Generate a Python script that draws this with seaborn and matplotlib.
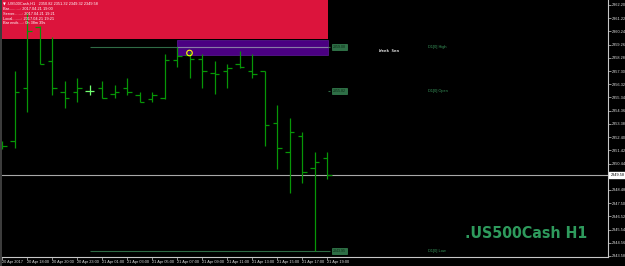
import numpy as np
import pandas as pd
import matplotlib
matplotlib.use("Agg")
import matplotlib.pyplot as plt
import matplotlib.transforms as mtransforms
from matplotlib.patches import Rectangle
import seaborn as sns

# ---------------- data ----------------
symbol = ".US500Cash,H1"
time_labels = ["20 Apr 2017", "20 Apr 18:00", "20 Apr 20:00", "20 Apr 23:00",
               "21 Apr 01:00", "21 Apr 03:00", "21 Apr 05:00", "21 Apr 07:00",
               "21 Apr 09:00", "21 Apr 11:00", "21 Apr 13:00", "21 Apr 15:00",
               "21 Apr 17:00", "21 Apr 19:00"]
label_bars = [0, 2, 4, 6, 8, 10, 12, 14, 16, 18, 20, 22, 24, 26]

opens  = [2351.81, 2352.11, 2356.04, 2360.57, 2358.05, 2355.75, 2355.75, 2355.82,
          2356.04, 2355.60, 2356.04, 2355.52, 2355.23, 2355.30, 2358.12, 2358.49,
          2358.19, 2357.16, 2357.30, 2357.82, 2357.30, 2357.30, 2353.45, 2351.30,
          2352.48, 2350.11, 2350.82]
highs  = [2352.11, 2357.30, 2361.61, 2360.64, 2359.83, 2356.56, 2356.78, 2356.27,
          2356.56, 2356.27, 2356.78, 2355.75, 2355.75, 2358.57, 2359.08, 2358.71,
          2358.57, 2358.05, 2357.82, 2358.79, 2358.57, 2357.32, 2354.78, 2353.82,
          2352.78, 2351.30, 2351.32]
lows   = [2351.52, 2351.59, 2354.26, 2357.82, 2355.52, 2354.56, 2355.00, 2355.52,
          2355.30, 2355.30, 2355.52, 2355.00, 2355.00, 2355.25, 2357.60, 2356.78,
          2356.04, 2355.60, 2356.04, 2357.53, 2356.78, 2351.74, 2350.03, 2348.25,
          2349.00, 2343.95, 2349.32]
closes = [2351.74, 2355.75, 2360.27, 2357.82, 2356.04, 2355.30, 2356.04, 2355.82,
          2355.30, 2355.75, 2355.75, 2355.00, 2355.52, 2358.12, 2358.42, 2358.19,
          2357.30, 2357.08, 2357.53, 2357.60, 2357.08, 2353.30, 2351.59, 2352.78,
          2349.81, 2350.55, 2349.58]

price_ticks = [2362.20, 2361.22, 2360.24, 2359.26, 2358.28, 2357.30, 2356.32,
               2355.34, 2354.36, 2353.38, 2352.40, 2351.42, 2350.44, 2349.46,
               2348.48, 2347.50, 2346.52, 2345.54, 2344.56, 2343.58]

day_start_bar = 7          # first H1 bar of 21 Apr
zone_top, zone_bottom = 2359.60, 2358.49
marker_bar, marker_price = 15, 2358.64
info_lines = ["Bar..........: 2017.04.21 19:00",
              "Server.......: 2017.04.21 19:21",
              "Local........: 2017.04.21 19:21",
              "Bar ends....: 0h 38m 39s"]
watermark = ".US500Cash H1"
week_text = "Week Sen"

df = pd.DataFrame({"bar": np.arange(len(opens)), "open": opens, "high": highs,
                   "low": lows, "close": closes})
d1_open = df["open"][day_start_bar]
d1_high = df["high"][day_start_bar:].max()
d1_low = df["low"][day_start_bar:].min()
bid = closes[-1]

# ---------------- style ----------------
sns.set_style("dark", rc={"axes.facecolor": "black", "figure.facecolor": "black"})
plt.rcParams["font.family"] = ["Liberation Sans", "DejaVu Sans"]

fig = plt.figure(figsize=(6.25, 2.66), dpi=100, facecolor="black")
ax = fig.add_axes([0, 9 / 266, 608 / 625, 257 / 266])
ax.set_facecolor("black")

px = 12.5  # pixels per bar
ax.set_xlim(-2 / px, (608 - 2) / px)
def price_at(ypix):
    return 2362.20 - (ypix - 5) / 13.48
ax.set_ylim(price_at(257), price_at(0))

# info panel (crimson)
ax.add_patch(Rectangle((0, 1 - 39 / 257), 328 / 608, 39 / 257, transform=ax.transAxes,
                       facecolor="#dc143c", edgecolor="none", zorder=1))
ax.text(3 / 608, 1 - 4 / 257, "▼", transform=ax.transAxes, color="white",
        fontsize=2.6, va="center", ha="left", zorder=6, family=["DejaVu Sans"])
ax.text(7 / 608, 1 - 4 / 257,
        f"{symbol}   {opens[-1]:.2f} {highs[-1]:.2f} {lows[-1]:.2f} {closes[-1]:.2f}",
        transform=ax.transAxes, color="white", fontsize=2.8, va="center", ha="left", zorder=6)
for k, line in enumerate(info_lines):
    ax.text(3 / 608, 1 - (9.3 + 4.7 * k) / 257, line, transform=ax.transAxes,
            color="white", fontsize=2.8, va="center", ha="left", zorder=6)

# zone (indigo)
x_end = (328 - 2) / px
ax.add_patch(Rectangle((14.0, zone_bottom), x_end - 14.0, zone_top - zone_bottom,
                       facecolor="#4b0082", edgecolor="#5e1a9a", lw=0.5, zorder=2))

# D1 levels
line_end = (330 - 2) / px
lvl_col = "#2f6b45"
ax.hlines([d1_high, d1_low], day_start_bar, line_end, color=lvl_col, lw=0.8, zorder=3)
ax.hlines(d1_high, 14.0, x_end, color="#8a7aa8", lw=0.8, zorder=3)
ax.hlines(d1_open, x_end, line_end, color=lvl_col, lw=0.8, zorder=3)
for val, name in [(d1_high, "High"), (d1_open, "Open"), (d1_low, "Low")]:
    ax.text((333 - 2) / px, val, f"{val:.2f}", color="#0a2a14", fontsize=2.6,
            va="center", ha="left", zorder=6,
            bbox=dict(boxstyle="square,pad=0.25", facecolor="#2e6e46",
                      edgecolor="#3f9a60", lw=0.4))
    ax.text((428 - 2) / px, val, f"D1[0] {name}", color="#3a9a5e", fontsize=2.8,
            va="center", ha="left", zorder=6)
ax.text((379 - 2) / px, price_at(50.5), week_text, color="#e8e8e8", fontsize=3.0,
        fontweight="bold", va="center", ha="left", zorder=6, family=["DejaVu Sans Mono"])

# bid line
ax.axhline(bid, color="#a8a8a8", lw=0.8, zorder=2)

# OHLC bars
bar_col = "#079607"
tick = 0.36
is_doji = (df["open"] - df["close"]).abs() < 0.02
col = np.where(is_doji, "#70ff70", bar_col)
ax.vlines(df["bar"], df["low"], df["high"], colors=col, lw=0.9, zorder=4)
ax.hlines(df["open"], df["bar"] - tick, df["bar"], colors=col, lw=0.9, zorder=4)
ax.hlines(df["close"], df["bar"], df["bar"] + tick, colors=col, lw=0.9, zorder=4)

# marker
sns.scatterplot(x=[marker_bar], y=[marker_price], ax=ax, s=16, marker="o",
                facecolor="none", edgecolor="#ffff00", linewidth=0.8, zorder=5)

# axes
for side in ["left", "top"]:
    ax.spines[side].set_visible(False)
for side in ["right", "bottom"]:
    ax.spines[side].set_visible(True)
    ax.spines[side].set_color("#c8c8c8")
    ax.spines[side].set_linewidth(0.8)
ax.grid(False)
ax.yaxis.tick_right()
ax.set_yticks(price_ticks)
# the bid price label covers the scale label that sits at the same height
ax.set_yticklabels(["" if abs(p - bid) < 0.3 else f"{p:.2f}" for p in price_ticks])
ax.tick_params(axis="y", colors="#c8c8c8", labelcolor="#e0e0e0", labelsize=2.8,
               length=2, width=0.5, pad=1, right=True, left=False)
ax.set_xticks(label_bars)
ax.set_xticklabels(time_labels)
ax.tick_params(axis="x", colors="#c8c8c8", labelcolor="#e0e0e0", labelsize=2.8,
               length=2, width=0.5, pad=0.5, bottom=True)
plt.setp(ax.get_xticklabels(), ha="left")
ax.set_xlabel("")
ax.set_ylabel("")

# bid price label
trans = mtransforms.blended_transform_factory(ax.transAxes, ax.transData)
ax.text(1.004, bid, f"{bid:.2f}", transform=trans, color="black",
        fontsize=2.8, va="center", ha="left", zorder=7, clip_on=False,
        bbox=dict(boxstyle="square,pad=0.3", facecolor="white", edgecolor="white"))

# watermark: fit into the same pixel span as the reference (465..588 px)
wm = fig.text(465 / 625, (266 - 238) / 266, watermark, color="#2e9a5c", fontsize=15.5,
              fontweight="bold", fontstretch="condensed", ha="left", va="baseline",
              family=["DejaVu Sans"])
fig.canvas.draw()
w = wm.get_window_extent(renderer=fig.canvas.get_renderer()).width
wm.set_fontsize(15.5 * min(1.0, 123.0 / w))

# left window border
fig.patches.append(Rectangle((0, 0), 1.6 / 625, 1, transform=fig.transFigure,
                             facecolor="#3c3c3c", edgecolor="none"))

fig.savefig("out.png", dpi=100, facecolor="black")
